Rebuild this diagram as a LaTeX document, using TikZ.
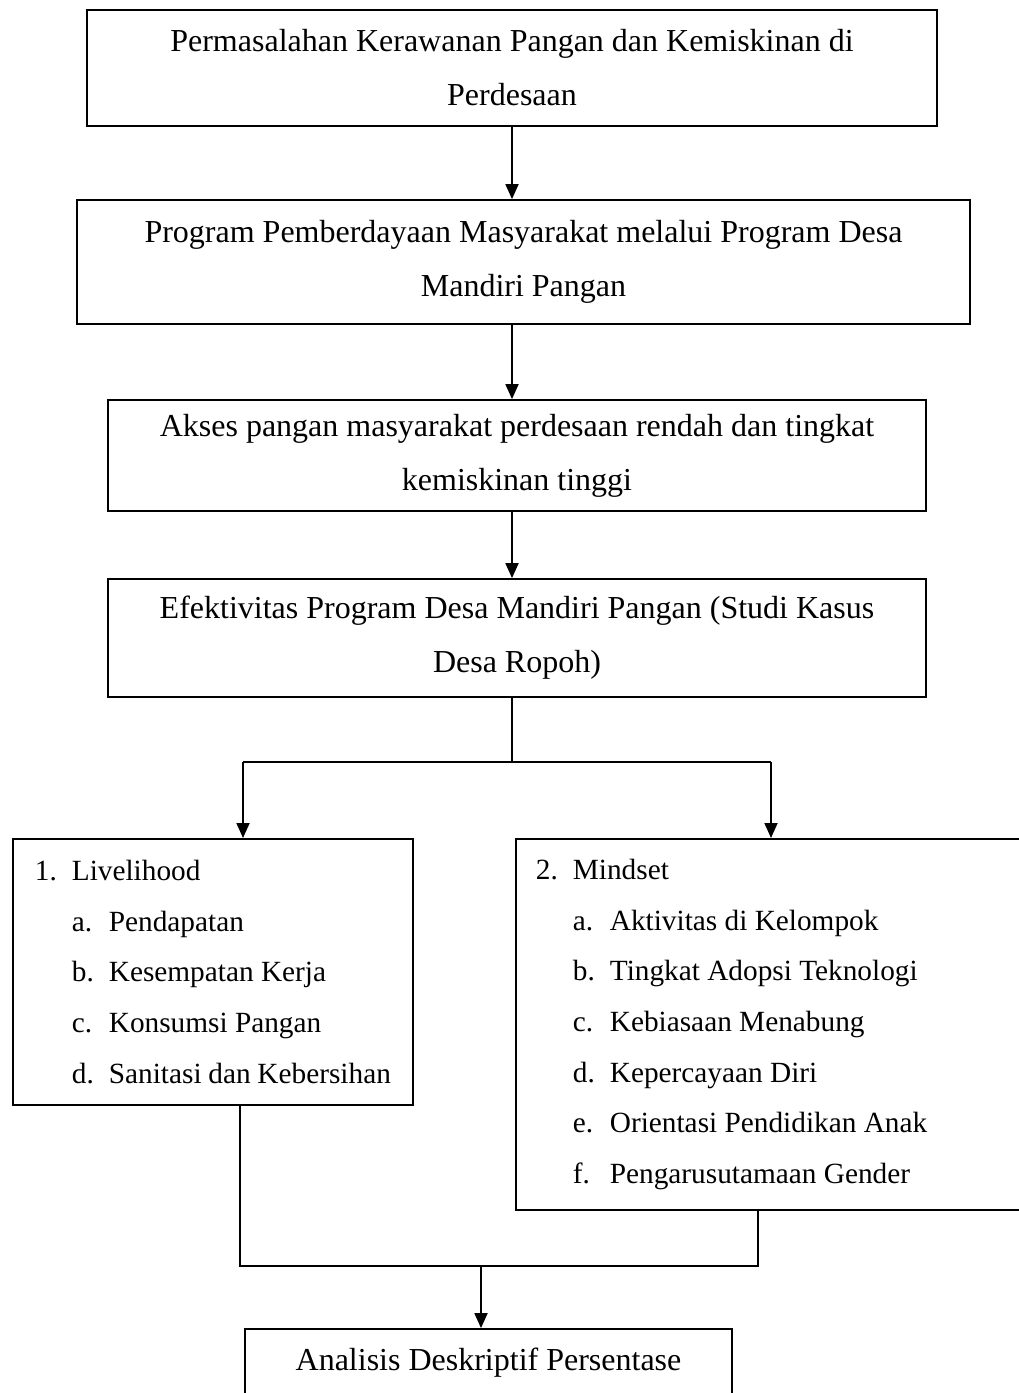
\documentclass[tikz,border=0pt]{standalone}
\usepackage{fontspec}
\setmainfont{Liberation Serif}
\usetikzlibrary{arrows.meta}
\newcommand{\itm}[2]{\makebox[37pt][l]{#1}#2}
\newcommand{\subitm}[2]{\hspace*{37pt}\itm{#1}{#2}}
\begin{document}
\begin{tikzpicture}[x=1pt,y=-1pt]
      \tikzstyle{every node}+=[inner sep=0pt]
      \tikzstyle{box}=[draw, rectangle, line width=1.8pt, align=center, font=\fontsize{32}{54}\selectfont]
      \tikzstyle{listbox}=[draw, rectangle, line width=1.8pt, anchor=north west, align=flush left, font=\fontsize{29.3}{50.7}\selectfont]
      \tikzstyle{line}=[line width=1.8pt]
      \tikzstyle{arr}=[line width=1.8pt, -{Triangle[length=15pt,width=13pt]}]
      \useasboundingbox (0,0) rectangle (1019,1393);
      \clip (0,0) rectangle (1019,1393);
      \node[box, minimum width=850pt, minimum height=116pt] (masalah) at (512,68) {Permasalahan Kerawanan Pangan dan Kemiskinan di\\Perdesaan};
      \node[box, minimum width=893pt, minimum height=124pt] (program) at (523.5,262) {Program Pemberdayaan Masyarakat melalui Program Desa\\Mandiri Pangan};
      \node[box, minimum width=818pt, minimum height=111pt] (akses) at (517,455.5) {Akses pangan masyarakat perdesaan rendah dan tingkat\\kemiskinan tinggi};
      \node[box, minimum width=818pt, minimum height=118pt] (efektif) at (517,638) {Efektivitas Program Desa Mandiri Pangan (Studi Kasus\\Desa Ropoh)};
      \node[listbox, text width=356pt, inner xsep=22pt, minimum height=266pt] (livelihood) at (12,838) {\itm{1.}{Livelihood}\\\subitm{a.}{Pendapatan}\\\subitm{b.}{Kesempatan Kerja}\\\subitm{c.}{Konsumsi Pangan}\\\subitm{d.}{Sanitasi dan Kebersihan}};
      \node[listbox, text width=500pt, inner xsep=20pt, minimum height=371pt] (mindset) at (515,838) {\itm{2.}{Mindset}\\\subitm{a.}{Aktivitas di Kelompok}\\\subitm{b.}{Tingkat Adopsi Teknologi}\\\subitm{c.}{Kebiasaan Menabung}\\\subitm{d.}{Kepercayaan Diri}\\\subitm{e.}{Orientasi Pendidikan Anak}\\\subitm{f.}{Pengarusutamaan Gender}};
      \node[box, minimum width=487pt, minimum height=68pt] (analisis) at (488.5,1363) {Analisis Deskriptif Persentase};
      \coordinate (cabang) at (512,762);
      \coordinate (kiri) at (243,762);
      \coordinate (kanan) at (771,762);
      \coordinate (gkiri) at (240,1266);
      \coordinate (gkanan) at (758,1266);
      \coordinate (gabung) at (481,1266);
      \draw [arr] (masalah.south) -- (masalah.south |- program.north);
      \draw [arr] (masalah.south |- program.south) -- (masalah.south |- akses.north);
      \draw [arr] (masalah.south |- akses.south) -- (masalah.south |- efektif.north);
      \draw [line] (cabang |- efektif.south) -- (cabang);
      \draw [line] (kiri) -- (kanan);
      \draw [arr] (kiri) -- (kiri |- livelihood.north);
      \draw [arr] (kanan) -- (kanan |- mindset.north);
      \draw [line] (gkiri |- livelihood.south) -- (gkiri) -- (gkanan) -- (gkanan |- mindset.south);
      \draw [arr] (gabung) -- (gabung |- analisis.north);
\end{tikzpicture}
\end{document}
